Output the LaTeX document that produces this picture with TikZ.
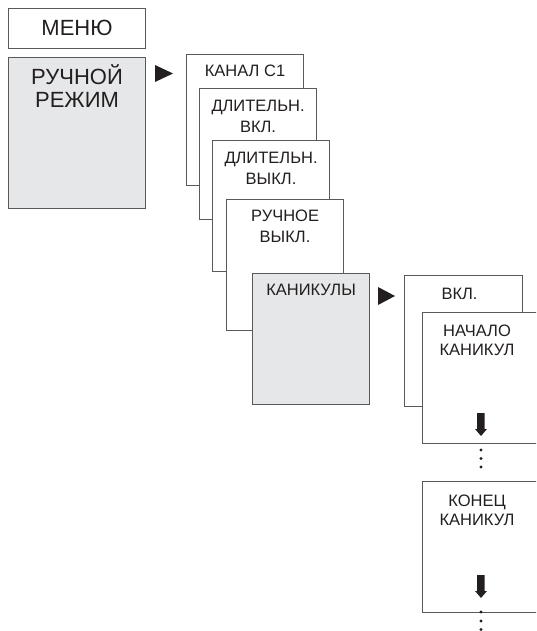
\documentclass[tikz,border=0pt]{standalone}
\usepackage{fontspec}
\setmainfont{Liberation Sans}
\definecolor{linegray}{HTML}{58595B}
\definecolor{textcol}{HTML}{231F20}
\definecolor{fillgray}{HTML}{E6E7E8}
\begin{document}
\begin{tikzpicture}[x=1pt,y=-1pt,
  box/.style={draw=linegray, line width=1.1pt, fill=white, minimum width=117pt, minimum height=131pt, inner sep=0pt, anchor=north west},
  graybox/.style={box, fill=fillgray},
  bigtxt/.style={text=textcol, font=\fontsize{22}{23.5}\selectfont, align=center, anchor=north, inner sep=0pt},
  smalltxt/.style={text=textcol, font=\fontsize{16.5}{20.5}\selectfont, align=center, anchor=north, inner sep=0pt},
  tri/.style={fill=textcol, draw=none},
  dotm/.style={fill=textcol, draw=none}
]
\useasboundingbox (0,0) rectangle (536,631);
\clip (0,0) rectangle (536,631);
% left column
\node[box, minimum width=137pt, minimum height=40pt] (menu) at (8,8) {};
\node[bigtxt] (menut) at ([yshift=-12pt]menu.north) {МЕНЮ};
\node[graybox, minimum width=137pt, minimum height=151pt] (manual) at (8,57) {};
\node[bigtxt] (manualt) at ([yshift=-7pt]manual.north) {РУЧНОЙ\\РЕЖИМ};
\fill[tri] (155,65) -- (173,73.5) -- (155,82) -- cycle;
% stack
\node[box] (b1) at (186,54) {};
\node[smalltxt] (b1t) at ([yshift=-11pt]b1.north) {КАНАЛ С1};
\node[box] (b2) at (199,88) {};
\node[smalltxt] (b2t) at ([yshift=-12pt]b2.north) {ДЛИТЕЛЬН.\\ВКЛ.};
\node[box] (b3) at (212,140) {};
\node[smalltxt] (b3t) at ([yshift=-12pt]b3.north) {ДЛИТЕЛЬН.\\ВЫКЛ.};
\node[box] (b4) at (226,199) {};
\node[smalltxt] (b4t) at ([yshift=-11pt]b4.north) {РУЧНОЕ\\ВЫКЛ.};
\node[graybox] (b5) at (252,273) {};
\node[smalltxt] (b5t) at ([yshift=-10.5pt]b5.north) {КАНИКУЛЫ};
\fill[tri] (378,287) -- (395,296) -- (378,305) -- cycle;
% right column
\node[box, minimum width=118pt] (vkl) at (404,275) {};
\node[smalltxt] (vklt) at ([xshift=-4pt,yshift=-13pt]vkl.north) {ВКЛ.};
\node[box] (start) at (422,312) {};
\node[smalltxt, font=\fontsize{16.5}{18.5}\selectfont] (startt) at ([xshift=-4pt,yshift=-13pt]start.north) {НАЧАЛО\\КАНИКУЛ};
\fill[textcol] (477,413) -- (484.5,413) -- (484.5,429) -- (487,429) -- (481,436) -- (475,429) -- (477,429) -- cycle;
\foreach \yy in {450,458.5,467} \fill[dotm] (481,\yy) circle (1.6pt);
\node[box] (end) at (422,481) {};
\node[smalltxt, font=\fontsize{16.5}{18.5}\selectfont] (endt) at ([xshift=-4pt,yshift=-14pt]end.north) {КОНЕЦ\\КАНИКУЛ};
\fill[textcol] (477,575) -- (484.5,575) -- (484.5,591) -- (487,591) -- (481,598) -- (475,591) -- (477,591) -- cycle;
\foreach \yy in {612,621,629.5} \fill[dotm] (481,\yy) circle (1.6pt);
\end{tikzpicture}
\end{document}
